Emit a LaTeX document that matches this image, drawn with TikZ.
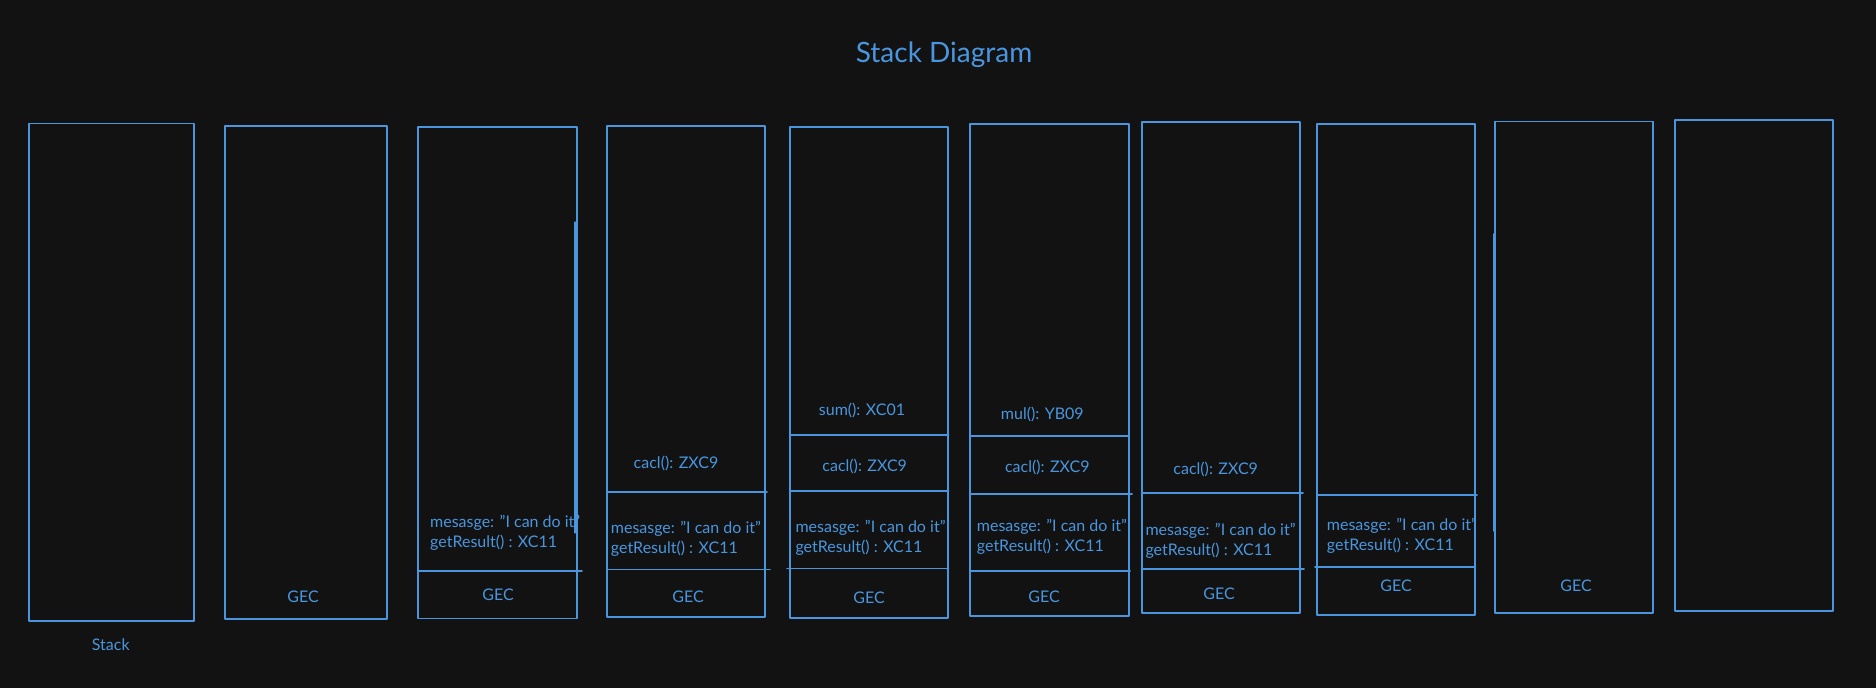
\documentclass[tikz,border=0pt]{standalone}
\usepackage{fontspec}
\setmainfont{Lato}
\definecolor{bg}{HTML}{121212}
\definecolor{ink}{HTML}{4A96DE}
% straight double quote, not turned into a curly one
\newcommand{\sq}{\symbol{"22}}
\newcommand{\msgline}{mesasge: \sq I can do it\sq}
\begin{document}
\begin{tikzpicture}[x=1pt,y=-1pt,
  frame/.style={draw=ink,line width=1.9pt,line join=round},
  divider/.style={draw=ink,line width=1.9pt,line cap=round},
  retrace/.style={draw=ink,line width=1.1pt,line cap=round},
  lbl/.style={text=ink,inner sep=0pt,font=\fontsize{16}{20}\selectfont},
  titletext/.style={text=ink,inner sep=0pt,font=\fontsize{28}{34}\selectfont}]
\fill[bg] (0,0) rectangle (1876,688);
\useasboundingbox (0,0) rectangle (1876,688);

% title
\node[titletext,anchor=base] (title) at (944,62.7) {Stack Diagram};

% ---- frame 1: empty stack
\draw[frame] (28.7,123.5) rectangle (194.3,620.8);
\node[lbl,anchor=base] (stack) at (110.8,650) {Stack};

% ---- frame 2: GEC only
\draw[frame] (225,125.7) rectangle (387.3,618.6);
\node[lbl,anchor=base] (gec2) at (303,602.5) {GEC};

% ---- frame 3
\draw[frame] (418.3,126.8) rectangle (576.7,618.5);
\draw[retrace] (575,222) -- (575,533);
\draw[divider] (418.3,570.7) -- (582,570.7);
\node[lbl,anchor=base west] (msg3) at (430,527) {\msgline};
\node[lbl,anchor=base west] (res3) at (430,547) {getResult() : XC11};
\node[lbl,anchor=base] (gec3) at (498,600) {GEC};

% ---- frame 4
\draw[frame] (606.7,125.6) rectangle (765,617.3);
\draw[divider] (606.7,491.7) -- (767,491.7);
\draw[divider] (606.7,569.5) -- (770,569.5);
\node[lbl,anchor=base] (calc4) at (676,468) {cacl(): ZXC9};
\node[lbl,anchor=base west] (msg4) at (610.7,533) {\msgline};
\node[lbl,anchor=base west] (res4) at (610.7,553) {getResult() : XC11};
\node[lbl,anchor=base] (gec4) at (688,602.5) {GEC};

% ---- frame 5
\draw[frame] (790,126.8) rectangle (948.3,617.7);
\draw[divider] (790,435.3) -- (948.3,435.3);
\draw[divider] (790,491.3) -- (948.3,491.3);
\draw[divider] (787,568.5) -- (948.3,568.5);
\node[lbl,anchor=base] (sum5) at (862,415) {sum(): XC01};
\node[lbl,anchor=base] (calc5) at (864.7,471.7) {cacl(): ZXC9};
\node[lbl,anchor=base west] (msg5) at (795.3,532.7) {\msgline};
\node[lbl,anchor=base west] (res5) at (795.3,552.7) {getResult() : XC11};
\node[lbl,anchor=base] (gec5) at (869,603.3) {GEC};

% ---- frame 6
\draw[frame] (970,124.4) rectangle (1129,615.7);
\draw[retrace] (1017,123.2) -- (1079,123.2);
\draw[divider] (970,436) -- (1129,436);
\draw[divider] (970,494.3) -- (1132,494.3);
\draw[divider] (970,571.2) -- (1130,571.2);
\node[lbl,anchor=base] (mul6) at (1042.3,419) {mul(): YB09};
\node[lbl,anchor=base] (calc6) at (1047.3,472.7) {cacl(): ZXC9};
\node[lbl,anchor=base west] (msg6) at (976.7,531.7) {\msgline};
\node[lbl,anchor=base west] (res6) at (976.7,551.7) {getResult() : XC11};
\node[lbl,anchor=base] (gec6) at (1044,602.7) {GEC};

% ---- frame 7
\draw[frame] (1141.7,122) rectangle (1300,613.3);
\draw[divider] (1141.7,493.3) -- (1303,493.3);
\draw[divider] (1141.7,569.3) -- (1304,569.3);
\node[lbl,anchor=base] (calc7) at (1215.7,474) {cacl(): ZXC9};
\node[lbl,anchor=base west] (msg7) at (1145.3,535.7) {\msgline};
\node[lbl,anchor=base west] (res7) at (1145.3,555.7) {getResult() : XC11};
\node[lbl,anchor=base] (gec7) at (1219,599.3) {GEC};

% ---- frame 8
\draw[frame] (1316.7,124.4) rectangle (1475.3,615.3);
\draw[divider] (1316.7,495) -- (1477,495);
\draw[divider] (1315,567) -- (1475.3,567);
\node[lbl,anchor=base west] (msg8) at (1326.7,530) {\msgline};
\node[lbl,anchor=base west] (res8) at (1326.7,550) {getResult() : XC11};
\node[lbl,anchor=base] (gec8) at (1396,591.7) {GEC};

% ---- frame 9
\draw[frame] (1495,121.5) rectangle (1653.3,613);
\draw[retrace] (1493.6,234) -- (1493.6,531);
\node[lbl,anchor=base] (gec9) at (1576,591.7) {GEC};

% ---- frame 10: empty again
\draw[frame] (1674.7,119.6) rectangle (1833.3,610.9);
\end{tikzpicture}
\end{document}
